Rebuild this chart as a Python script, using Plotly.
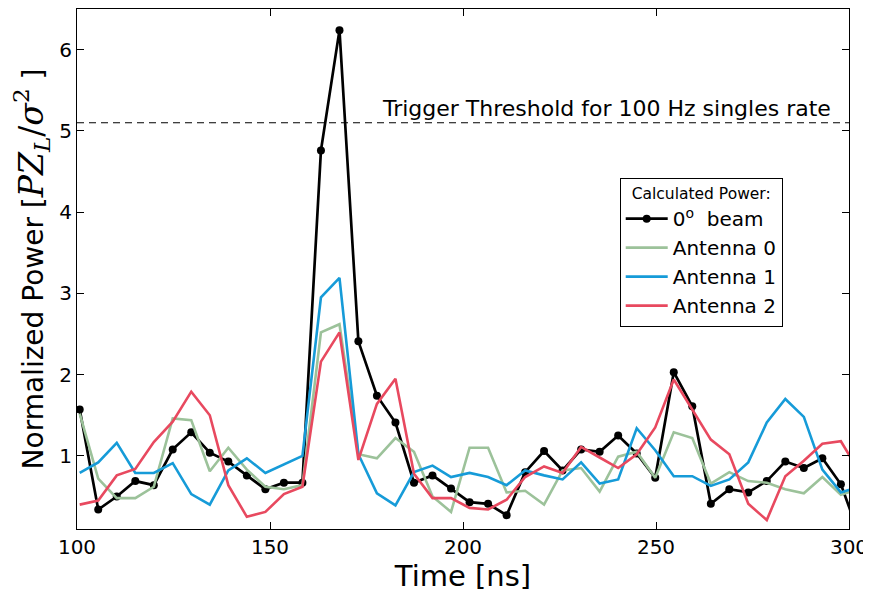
import plotly.graph_objects as go

time_ns = [100.7, 105.5, 110.3, 115.1, 119.9, 124.8, 129.6, 134.4, 139.2, 144.0,
           148.8, 153.6, 158.4, 163.2, 168.0, 172.9, 177.7, 182.5, 187.3, 192.1,
           196.9, 201.7, 206.5, 211.3, 216.1, 221.0, 225.8, 230.6, 235.4, 240.2,
           245.0, 249.8, 254.6, 259.4, 264.2, 269.0, 273.9, 278.7, 283.5, 288.3,
           293.1, 297.9, 302.7]

beam_0deg = [1.57, 0.34, 0.50, 0.69, 0.64, 1.08, 1.29, 1.04, 0.93, 0.76,
             0.59, 0.67, 0.67, 4.76, 6.24, 2.41, 1.74, 1.41, 0.67, 0.76,
             0.60, 0.43, 0.41, 0.27, 0.80, 1.06, 0.82, 1.08, 1.05, 1.25,
             1.03, 0.73, 2.03, 1.61, 0.41, 0.59, 0.55, 0.69, 0.93, 0.85,
             0.97, 0.65, 0.02]

antenna_0 = [1.52, 0.72, 0.48, 0.48, 0.62, 1.46, 1.44, 0.81, 1.10, 0.83,
             0.62, 0.59, 0.64, 2.52, 2.62, 1.02, 0.97, 1.22, 1.05, 0.50,
             0.31, 1.10, 1.10, 0.55, 0.57, 0.40, 0.82, 0.85, 0.56, 0.99,
             1.05, 0.73, 1.29, 1.22, 0.66, 0.80, 0.69, 0.67, 0.59, 0.54,
             0.74, 0.52, 0.60]

antenna_1 = [0.79, 0.92, 1.16, 0.79, 0.79, 0.91, 0.53, 0.40, 0.82, 0.97,
             0.79, 0.90, 1.00, 2.95, 3.19, 1.02, 0.54, 0.39, 0.80, 0.88,
             0.74, 0.79, 0.74, 0.64, 0.82, 0.76, 0.71, 0.92, 0.66, 0.71,
             1.34, 1.07, 0.75, 0.75, 0.63, 0.71, 0.92, 1.41, 1.70, 1.48,
             0.83, 0.55, 0.62]

antenna_2 = [0.40, 0.45, 0.76, 0.84, 1.17, 1.42, 1.79, 1.50, 0.64, 0.25,
             0.31, 0.53, 0.62, 2.16, 2.52, 0.95, 1.64, 1.95, 0.78, 0.48,
             0.48, 0.36, 0.34, 0.46, 0.74, 0.87, 0.79, 1.11, 0.98, 0.85,
             1.02, 1.35, 1.94, 1.57, 1.20, 1.02, 0.41, 0.21, 0.75, 0.94,
             1.15, 1.18, 0.80]

trigger_threshold = 5.1
x_ticks = [100, 150, 200, 250, 300]
y_ticks = [1, 2, 3, 4, 5, 6]

FONT = "DejaVu Sans, sans-serif"
MATH = "DejaVu Serif, serif"

fig = go.Figure()
fig.add_trace(go.Scatter(x=time_ns, y=beam_0deg, mode="lines+markers",
                         name="0<sup>o</sup>  beam",
                         line=dict(color="black", width=2.7),
                         marker=dict(color="black", size=8)))
fig.add_trace(go.Scatter(x=time_ns, y=antenna_0, mode="lines", name="Antenna 0",
                         line=dict(color="#9cc29a", width=2.6)))
fig.add_trace(go.Scatter(x=time_ns, y=antenna_1, mode="lines", name="Antenna 1",
                         line=dict(color="#169bd8", width=2.6)))
fig.add_trace(go.Scatter(x=time_ns, y=antenna_2, mode="lines", name="Antenna 2",
                         line=dict(color="#e8495f", width=2.6)))

fig.add_shape(type="line", xref="paper", yref="y", x0=0, x1=1,
              y0=trigger_threshold, y1=trigger_threshold,
              line=dict(color="black", width=1.2, dash="7px,5px"))
fig.add_annotation(xref="paper", yref="y", x=0.979, y=trigger_threshold,
                   text="Trigger Threshold for 100 Hz singles rate",
                   showarrow=False, xanchor="right", yanchor="bottom", yshift=0,
                   font=dict(family=FONT, size=22, color="black"))

axis_common = dict(showline=True, linecolor="black", linewidth=1.2, mirror="allticks",
                   ticks="inside", ticklen=7, tickwidth=1, tickcolor="black",
                   showgrid=False, zeroline=False,
                   tickfont=dict(family=FONT, size=20, color="black"))

fig.update_xaxes(range=[100, 300], tickvals=x_ticks,
                 title=dict(text="Time [ns]", font=dict(family=FONT, size=29, color="black"),
                            standoff=12),
                 **axis_common)
fig.update_yaxes(range=[0.1, 6.5], tickvals=y_ticks,
                 title=dict(text=("Normalized Power [<span style='font-family:" + MATH +
                                  "; font-size:33px'>"
                                  "<i>PZ</i><sub><i>L</i></sub>/<i>σ</i><sup>2</sup></span> ]"),
                            font=dict(family=FONT, size=28, color="black"), standoff=10),
                 **axis_common)

# The page body adds an 8px margin, so the figure is sized to fill the rest of the window.
fig.update_layout(
    width=863, height=585,
    margin=dict(l=69, r=22, t=1, b=64),
    paper_bgcolor="white", plot_bgcolor="white",
    font=dict(family=FONT, color="black"),
    showlegend=True,
    legend=dict(x=0.703, y=0.675, xanchor="left", yanchor="top",
                bgcolor="white", bordercolor="black", borderwidth=1,
                font=dict(family=FONT, size=20, color="black"),
                title=dict(text="Calculated Power:", side="top center",
                           font=dict(family=FONT, size=15.5, color="black")),
                itemwidth=42, tracegroupgap=0),
)

fig.write_html("out.html")
